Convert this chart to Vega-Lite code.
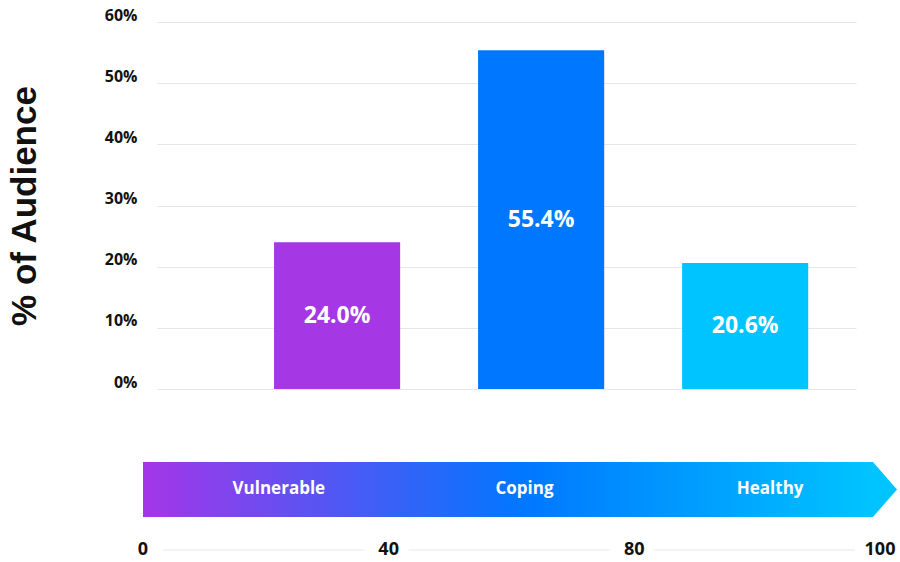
{
  "$schema": "https://vega.github.io/schema/vega-lite/v6.json",
  "background": "white",
  "padding": {"left": 7, "top": 7, "right": 0, "bottom": 0},
  "config": {"view": {"stroke": null}, "font": "Open Sans"},
  "datasets": {
    "audience": [
      {"status": "Vulnerable", "pct": 24.0},
      {"status": "Coping", "pct": 55.4},
      {"status": "Healthy", "pct": 20.6}
    ],
    "bands": [
      {"band": "Vulnerable", "start": 0, "end": 40},
      {"band": "Coping", "start": 40, "end": 80},
      {"band": "Healthy", "start": 80, "end": 100}
    ],
    "ticks": [
      {"score": 0},
      {"score": 40},
      {"score": 80},
      {"score": 100}
    ]
  },
  "spacing": 71,
  "vconcat": [
    {
      "width": 699,
      "height": 367,
      "data": {"name": "audience"},
      "layer": [
        {
          "mark": {"type": "bar"},
          "encoding": {
            "x": {
              "field": "status",
              "type": "nominal",
              "sort": ["Vulnerable", "Coping", "Healthy"],
              "scale": {"paddingInner": 0.382, "paddingOuter": 0.404, "align": 0.71},
              "axis": null
            },
            "y": {
              "field": "pct",
              "type": "quantitative",
              "title": "% of Audience",
              "scale": {"domain": [0, 60], "nice": false},
              "axis": {
                "values": [0, 10, 20, 30, 40, 50, 60],
                "labelExpr": "datum.value + '%'",
                "grid": true,
                "gridColor": "#e6e6e6",
                "domain": false,
                "ticks": false,
                "labelPadding": 20,
                "labelFont": "Open Sans",
                "labelFontWeight": "bold",
                "labelFontSize": 16,
                "labelColor": "#111111",
                "labelBaseline": "alphabetic",
                "labelOffset": -2,
                "titleFont": "Liberation Sans",
                "titleFontSize": 35,
                "titleFontWeight": "bold",
                "titleColor": "#111111",
                "titlePadding": 62
              }
            },
            "color": {
              "field": "status",
              "type": "nominal",
              "scale": {
                "domain": ["Vulnerable", "Coping", "Healthy"],
                "range": ["#a537e5", "#0077ff", "#00c4ff"]
              },
              "legend": null
            }
          }
        },
        {
          "transform": [
            {"calculate": "datum.pct / 2", "as": "mid"},
            {"calculate": "format(datum.pct, '.1f') + '%'", "as": "label"}
          ],
          "mark": {
            "type": "text",
            "color": "white",
            "font": "Open Sans",
            "fontWeight": "bold",
            "fontSize": 23,
            "baseline": "middle",
            "align": "center"
          },
          "encoding": {
            "x": {"field": "status", "type": "nominal", "sort": ["Vulnerable", "Coping", "Healthy"]},
            "y": {"field": "mid", "type": "quantitative", "title": "% of Audience"},
            "text": {"field": "label", "type": "nominal"}
          }
        }
      ]
    },
    {
      "width": 699,
      "height": 95,
      "layer": [
        {
          "data": {"name": "bands"},
          "mark": {
            "type": "bar",
            "height": 55,
            "x2Offset": -7,
            "color": {
              "gradient": "linear",
              "x1": 0, "y1": 0, "x2": 1, "y2": 0,
              "stops": [
                {"offset": 0, "color": "#a436e8"},
                {"offset": 0.52, "color": "#0077ff"},
                {"offset": 1, "color": "#00c4ff"}
              ]
            }
          },
          "encoding": {
            "x": {
              "aggregate": "min",
              "field": "start",
              "type": "quantitative",
              "scale": {"domain": [0, 40, 80, 100], "range": [-14, 231.67, 477.33, 723]},
              "axis": null
            },
            "x2": {"aggregate": "max", "field": "end"},
            "y": {
              "datum": "arrow",
              "type": "nominal",
              "scale": {"type": "point", "domain": ["arrow", "score"], "padding": 0.285, "align": 0.797},
              "axis": null
            }
          }
        },
        {
          "data": {"name": "bands"},
          "mark": {
            "type": "point",
            "shape": "M-0.255,-1L0.618,0L-0.255,1Z",
            "size": 3025,
            "filled": true,
            "fill": "#00c4ff",
            "opacity": 1,
            "strokeWidth": 0
          },
          "encoding": {
            "x": {"aggregate": "max", "field": "end", "type": "quantitative"},
            "y": {"datum": "arrow", "type": "nominal"}
          }
        },
        {
          "data": {"name": "bands"},
          "transform": [{"calculate": "(datum.start + datum.end) / 2", "as": "mid"}],
          "mark": {
            "type": "text",
            "color": "white",
            "font": "Open Sans",
            "fontWeight": "bold",
            "fontSize": 17,
            "dx": 13,
            "baseline": "middle",
            "align": "center"
          },
          "encoding": {
            "x": {"field": "mid", "type": "quantitative"},
            "y": {"datum": "arrow", "type": "nominal"},
            "text": {"field": "band", "type": "nominal"}
          }
        },
        {
          "data": {"name": "bands"},
          "mark": {"type": "rule", "color": "#e8e8e8", "strokeWidth": 1.2, "xOffset": 20, "x2Offset": -25},
          "encoding": {
            "x": {"field": "start", "type": "quantitative"},
            "x2": {"field": "end"},
            "y": {"datum": "score", "type": "nominal"}
          }
        },
        {
          "data": {"name": "ticks"},
          "mark": {
            "type": "text",
            "color": "#111111",
            "font": "Open Sans",
            "fontWeight": "bold",
            "fontSize": 18,
            "baseline": "middle",
            "align": "center"
          },
          "encoding": {
            "x": {"field": "score", "type": "quantitative"},
            "y": {"datum": "score", "type": "nominal"},
            "text": {"field": "score", "type": "quantitative"}
          }
        }
      ]
    }
  ]
}
